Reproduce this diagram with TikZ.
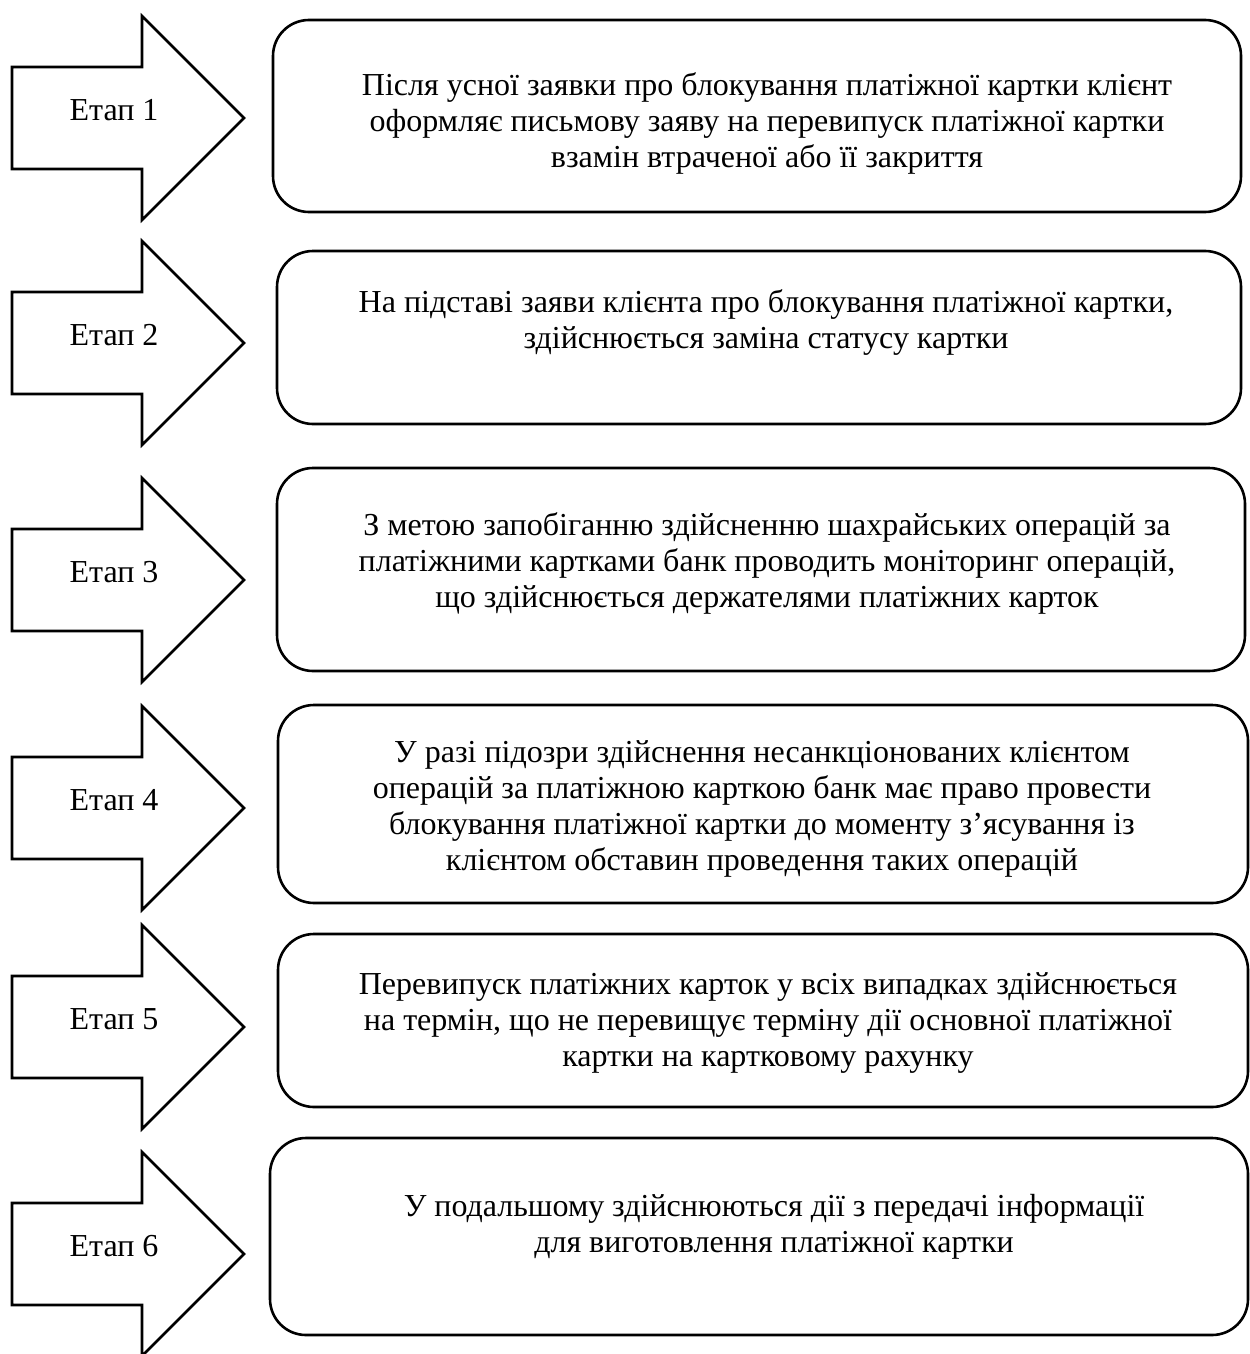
\documentclass[tikz,border=0pt]{standalone}
\usepackage{fontspec}
\setmainfont{Liberation Serif}

\begin{document}
\begin{tikzpicture}[x=0.5pt, y=-0.5pt,
    every node/.style={font=\fontsize{16}{18}\selectfont},
    stagearrow/.style={draw, line width=1.3pt, line join=miter},
    card/.style={draw, line width=1.3pt, rounded corners=18pt, inner sep=0pt},
    cardtext/.style={align=center, inner sep=0pt}]
  \useasboundingbox (0,0) rectangle (1249,1354);

  % Етап 1
  \draw[stagearrow] (12,67) -- (142,67) -- (142,16) -- (244,118) -- (142,220) -- (142,169) -- (12,169) -- cycle;
  \node (e1) at (114,110) {Етап 1};
  \node[card, minimum width=484pt, minimum height=96pt] (b1) at (757,116) {};
  \node[cardtext] (t1) at (767,123) {Після усної заявки про блокування платіжної картки клієнт\\
    оформляє письмову заяву на перевипуск платіжної картки\\
    взамін втраченої або її закриття};

  % Етап 2
  \draw[stagearrow] (12,292) -- (142,292) -- (142,241) -- (244,343) -- (142,445) -- (142,394) -- (12,394) -- cycle;
  \node (e2) at (114,335) {Етап 2};
  \node[card, minimum width=482pt, minimum height=86.5pt] (b2) at (759,337.5) {};
  \node[cardtext] (t2) at (766,322) {На підставі заяви клієнта про блокування платіжної картки,\\
    здійснюється заміна статусу картки};

  % Етап 3
  \draw[stagearrow] (12,529) -- (142,529) -- (142,478) -- (244,580) -- (142,682) -- (142,631) -- (12,631) -- cycle;
  \node (e3) at (114,572) {Етап 3};
  \node[card, minimum width=484pt, minimum height=101.5pt] (b3) at (761,569.5) {};
  \node[cardtext] (t3) at (767,563) {З метою запобіганню здійсненню шахрайських операцій за\\
    платіжними картками банк проводить моніторинг операцій,\\
    що здійснюється держателями платіжних карток};

  % Етап 4
  \draw[stagearrow] (12,757) -- (142,757) -- (142,706) -- (244,808) -- (142,910) -- (142,859) -- (12,859) -- cycle;
  \node (e4) at (114,800) {Етап 4};
  \node[card, minimum width=485pt, minimum height=99pt] (b4) at (763,804) {};
  \node[cardtext] (t4) at (762,809) {У разі підозри здійснення несанкціонованих клієнтом\\
    операцій за платіжною карткою банк має право провести\\
    блокування платіжної картки до моменту з’ясування із\\
    клієнтом обставин проведення таких операцій};

  % Етап 5
  \draw[stagearrow] (12,976) -- (142,976) -- (142,925) -- (244,1027) -- (142,1129) -- (142,1078) -- (12,1078) -- cycle;
  \node (e5) at (114,1019) {Етап 5};
  \node[card, minimum width=485pt, minimum height=86.5pt] (b5) at (763,1020.5) {};
  \node[cardtext] (t5) at (768,1023) {Перевипуск платіжних карток у всіх випадках здійснюється\\
    на термін, що не перевищує терміну дії основної платіжної\\
    картки на картковому рахунку};

  % Етап 6
  \draw[stagearrow] (12,1203) -- (142,1203) -- (142,1152) -- (244,1254) -- (142,1356) -- (142,1305) -- (12,1305) -- cycle;
  \node (e6) at (114,1246) {Етап 6};
  \node[card, minimum width=489pt, minimum height=98.5pt] (b6) at (759,1236.5) {};
  \node[cardtext] (t6) at (774,1227) {У подальшому здійснюються дії з передачі інформації\\
    для виготовлення платіжної картки};
\end{tikzpicture}
\end{document}
